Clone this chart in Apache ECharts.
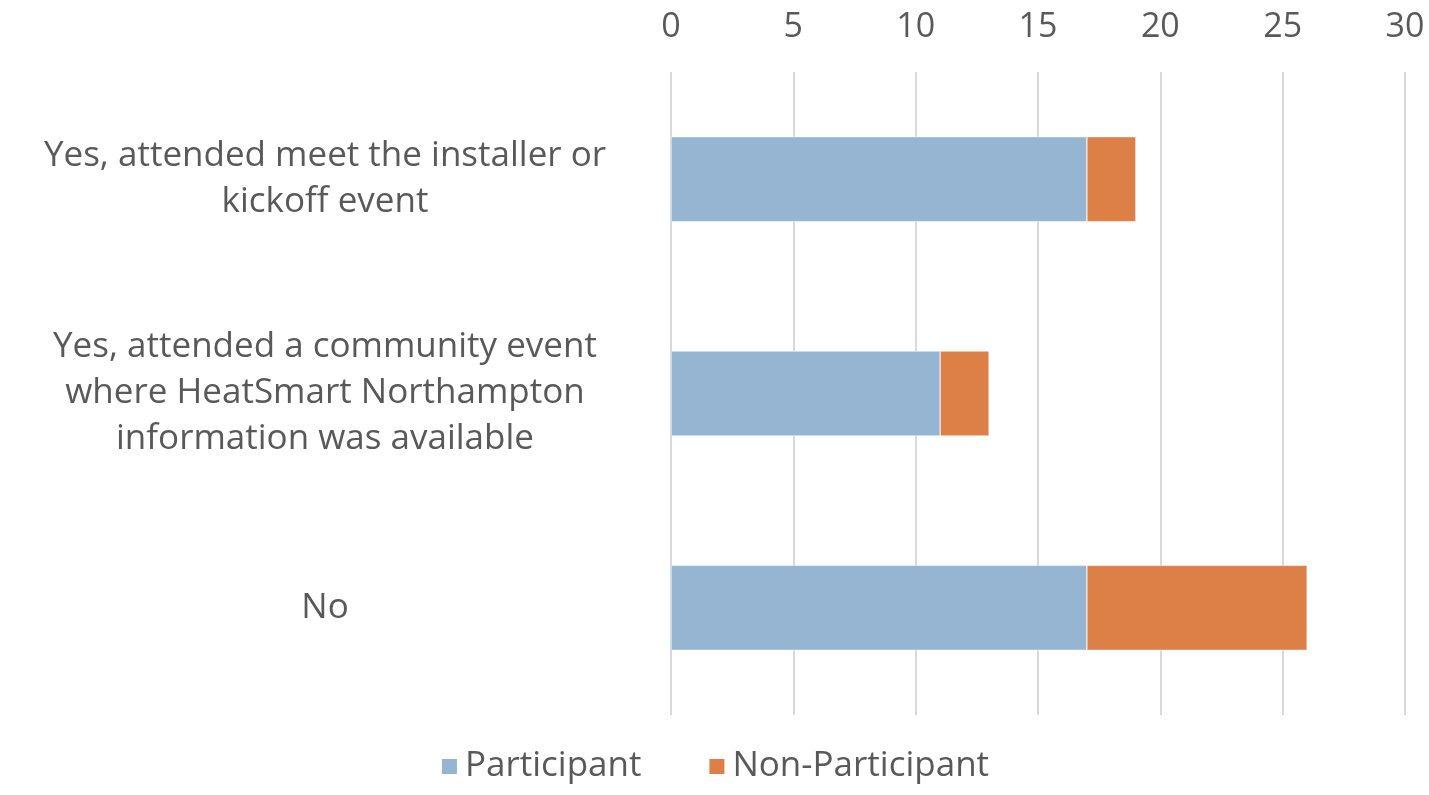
<!DOCTYPE html>
<html>
<head>
<meta charset="utf-8">
<script src="https://cdn.jsdelivr.net/npm/echarts@6/dist/echarts.min.js"></script>
<style>
  html, body { margin: 0; padding: 0; background: #fff; }
  #chart { width: 1429px; height: 795px; }
</style>
</head>
<body>
<div id="chart"></div>
<script>
// Survey responses: attendance at HeatSmart Northampton events
const categories = [
  'Yes, attended meet the installer or\nkickoff event',
  'Yes, attended a community event\nwhere HeatSmart Northampton\ninformation was available',
  'No'
];
const participant = [17, 11, 17];
const nonParticipant = [2, 2, 9];
const seriesNames = ['Participant', 'Non-Participant'];

const textColor = '#595959';
const fontFamily = '"Open Sans", sans-serif';

const chart = echarts.init(document.getElementById('chart'));
chart.setOption({
  animation: false,
  textStyle: { fontFamily: fontFamily },
  grid: { left: 671, right: 24, top: 72, bottom: 80, containLabel: false },
  legend: {
    bottom: 6,
    left: 'center',
    itemWidth: 17,
    itemHeight: 17,
    itemGap: 66,
    icon: 'rect',
    textStyle: { fontSize: 35, color: textColor, fontFamily: fontFamily, padding: [0, 0, 0, 2] },
    data: seriesNames
  },
  xAxis: {
    type: 'value',
    position: 'top',
    min: 0,
    max: 30,
    interval: 5,
    axisLine: { show: false },
    axisTick: { show: false },
    axisLabel: { fontSize: 34, color: textColor, margin: 28 },
    splitLine: { lineStyle: { color: '#D9D9D9', width: 2 } }
  },
  yAxis: {
    type: 'category',
    inverse: true,
    data: categories,
    axisLine: { show: false },
    axisTick: { show: false },
    axisLabel: {
      fontSize: 35,
      color: textColor,
      lineHeight: 46,
      align: 'center',
      margin: 346
    }
  },
  series: [
    {
      name: seriesNames[0],
      type: 'bar',
      stack: 'total',
      barWidth: 85,
      data: participant,
      itemStyle: { color: '#95B5D2', borderColor: '#ffffff', borderWidth: 0.5 }
    },
    {
      name: seriesNames[1],
      type: 'bar',
      stack: 'total',
      barWidth: 85,
      data: nonParticipant,
      itemStyle: { color: '#DD8047', borderColor: '#ffffff', borderWidth: 0.5 }
    }
  ]
});
</script>
</body>
</html>
